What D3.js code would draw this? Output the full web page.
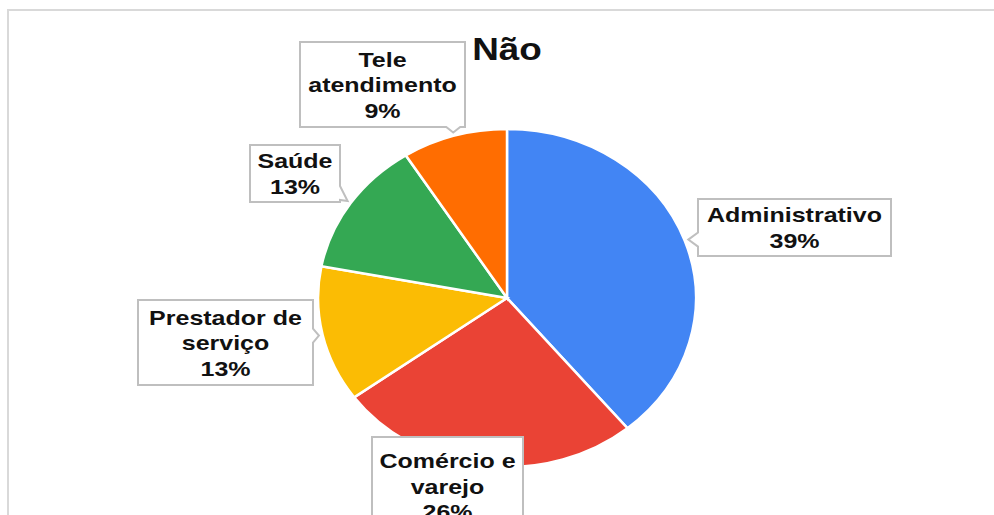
<!DOCTYPE html>
<html>
<head>
<meta charset="utf-8">
<script src="https://cdn.jsdelivr.net/npm/d3@7"></script>
<style>
  body { margin: 0; background: #fff; }
  svg { display: block; }
</style>
</head>
<body>
<div id="chart"></div>
<script>
// data
const categories = ["Administrativo", "Comércio e varejo", "Prestador de serviço", "Saúde", "Tele atendimento"];
const values = [39, 26, 13, 13, 9];
const labelLines = [["Administrativo"], ["Comércio e", "varejo"], ["Prestador de", "serviço"], ["Saúde"], ["Tele", "atendimento"]];
const colors = ["#4285F4", "#EA4335", "#FBBC04", "#34A853", "#FF6D01"];
const title = "Não";

// layout
const width = 994, height = 515;
const cx = 507, cy = 298;
const ry = 169, stretch = 1.118; // the picture is a bit wider than tall
const textStretch = 1.19;
const fontSize = 21, lineH = 25.5;

// label boxes, same order as categories
const boxes = [
  { x: 698, y: 199, w: 193, h: 57 },
  { x: 372, y: 437, w: 151, h: 98 },
  { x: 138, y: 300, w: 175, h: 85 },
  { x: 250, y: 145, w: 90, h: 57 },
  { x: 300, y: 42, w: 165, h: 85 }
];

const svg = d3.select("#chart").append("svg")
  .attr("width", width)
  .attr("height", height);

// outer frame
svg.append("rect")
  .attr("x", 8).attr("y", 10)
  .attr("width", width + 20).attr("height", height + 20)
  .attr("fill", "none")
  .attr("stroke", "#d9d9d9")
  .attr("stroke-width", 2);

let pie = d3.pie().sort(null).value(d => d);
let arcs = pie(values);
let arc = d3.arc().innerRadius(0).outerRadius(ry);

let pieG = svg.append("g")
  .attr("transform", `translate(${cx},${cy}) scale(${stretch},1)`);

pieG.selectAll("path")
  .data(arcs)
  .join("path")
  .attr("d", arc)
  .attr("fill", (d, i) => colors[i])
  .attr("stroke", "#fff")
  .attr("stroke-width", 2.5)
  .attr("vector-effect", "non-scaling-stroke");

// title
svg.append("text")
  .attr("transform", `translate(${cx},60) scale(${textStretch},1)`)
  .attr("text-anchor", "middle")
  .attr("font-family", "Liberation Sans, Arial, sans-serif")
  .attr("font-weight", "bold")
  .attr("font-size", 31)
  .attr("fill", "#111")
  .text(title);

// callout path: rectangle with a notch pointing at the slice
function callout(b, tip) {
  let x0 = b.x, x1 = b.x + b.w, y0 = b.y, y1 = b.y + b.h;
  let half = 7;
  let inX = tip[0] >= x0 && tip[0] <= x1;
  let inY = tip[1] >= y0 && tip[1] <= y1;
  let p = [];
  if (inX && inY) {
    // tip is under the box, no pointer
    p = [[x0, y0], [x1, y0], [x1, y1], [x0, y1]];
  } else if (inX) {
    let c = Math.max(x0 + half + 2, Math.min(x1 - half - 2, tip[0]));
    if (tip[1] > y1) {
      p = [[x0, y0], [x1, y0], [x1, y1], [c + half, y1], tip, [c - half, y1], [x0, y1]];
    } else {
      p = [[x0, y0], [c - half, y0], tip, [c + half, y0], [x1, y0], [x1, y1], [x0, y1]];
    }
  } else {
    let c = Math.max(y0 + half + 2, Math.min(y1 - half - 2, tip[1]));
    if (tip[0] > x1) {
      p = [[x0, y0], [x1, y0], [x1, c - half], tip, [x1, c + half], [x1, y1], [x0, y1]];
    } else {
      p = [[x0, y0], [x1, y0], [x1, y1], [x0, y1], [x0, c + half], tip, [x0, c - half]];
    }
  }
  return "M" + p.map(q => q.join(",")).join("L") + "Z";
}

let labels = svg.append("g").attr("id", "labels");

arcs.forEach((d, i) => {
  let b = boxes[i];
  let mid = (d.startAngle + d.endAngle) / 2;
  let r = ry * 1.02;
  let tip = [cx + Math.sin(mid) * r * stretch, cy - Math.cos(mid) * r];

  let g = labels.append("g");
  g.append("path")
    .attr("d", callout(b, tip))
    .attr("fill", "#fff")
    .attr("stroke", "#bfbfbf")
    .attr("stroke-width", 2);

  let lines = labelLines[i].concat([values[i] + "%"]);
  let bx = b.x + b.w / 2, by = b.y + b.h / 2;
  lines.forEach((t, j) => {
    let ty = by + (j - (lines.length - 1) / 2) * lineH + 7.5;
    g.append("text")
      .attr("transform", `translate(${bx},${ty}) scale(${textStretch},1)`)
      .attr("text-anchor", "middle")
      .attr("font-family", "Liberation Sans, Arial, sans-serif")
      .attr("font-weight", "bold")
      .attr("font-size", fontSize)
      .attr("fill", "#111")
      .text(t);
  });
});
</script>
</body>
</html>
